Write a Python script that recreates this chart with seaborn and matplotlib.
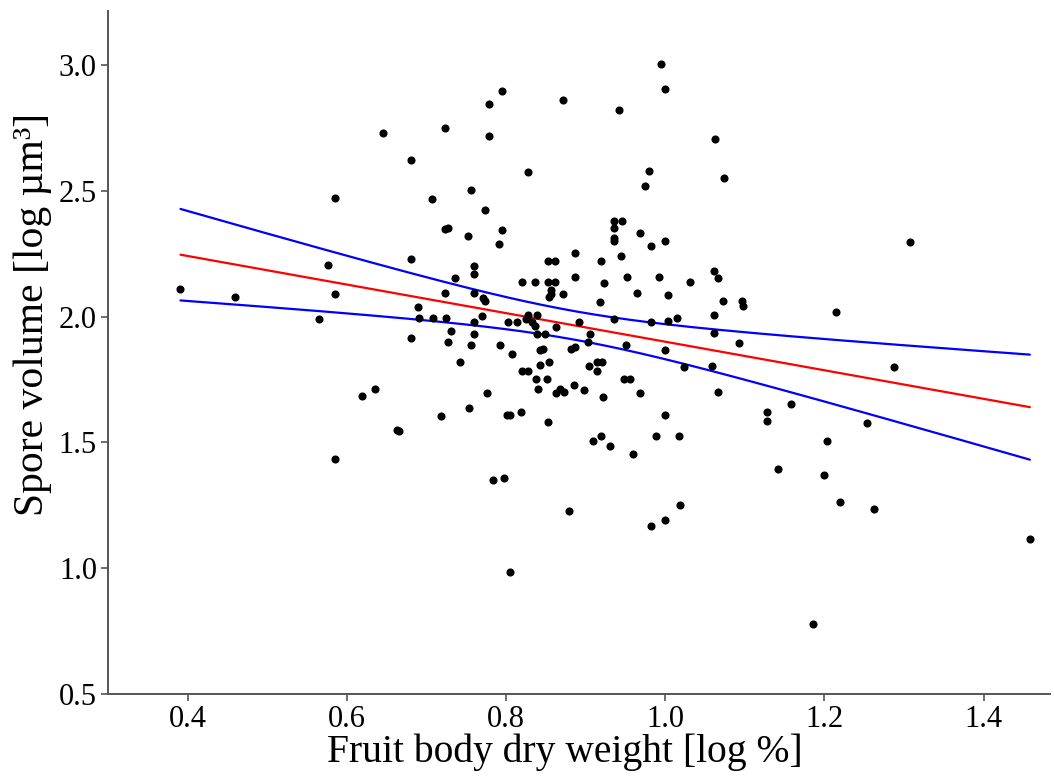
import numpy as np
import pandas as pd
import matplotlib
matplotlib.use("Agg")
import matplotlib.pyplot as plt
import seaborn as sns

# Fruit body dry weight [log %]
dry_weight = [
    0.645, 0.723, 0.681, 0.585, 0.707, 0.723, 0.727, 0.681, 0.576, 0.391,
    0.460, 0.585, 0.723, 0.689, 0.691, 0.708, 0.725, 0.565, 0.731, 0.681,
    0.727, 0.994, 1.000, 0.795, 0.778, 0.872, 0.942, 0.779, 1.062, 0.828,
    0.979, 1.074, 0.975, 0.756, 0.774, 0.795, 0.752, 0.791, 0.936, 0.946,
    0.936, 0.936, 0.936, 0.968, 0.982, 1.000, 0.886, 0.944, 0.853, 0.862,
    0.919, 0.760, 0.760, 0.736, 0.886, 0.952, 0.992, 0.820, 0.836, 0.853,
    0.861, 0.923, 1.031, 1.061, 1.066, 0.760, 0.771, 0.773, 0.856, 0.856,
    0.854, 0.871, 0.964, 1.004, 0.918, 1.073, 1.096, 1.098, 0.770, 0.760,
    0.803, 0.814, 0.827, 0.825, 0.839, 0.833, 0.836, 0.863, 0.892, 0.936,
    0.982, 1.004, 1.015, 1.061, 0.760, 0.839, 0.849, 0.906, 1.061, 0.756,
    0.793, 0.903, 0.951, 1.093, 0.843, 0.847, 0.881, 0.886, 1.000, 0.807,
    0.742, 0.820, 0.828, 0.843, 0.854, 0.838, 0.852, 0.840, 0.863, 0.868,
    0.873, 0.885, 0.898, 0.904, 0.914, 0.921, 0.914, 0.922, 0.948, 0.956,
    0.968, 1.023, 1.059, 1.066, 0.776, 0.753, 0.718, 0.801, 0.805, 0.819,
    0.853, 1.000, 0.909, 0.919, 0.931, 0.959, 0.988, 1.017, 1.128, 1.128,
    1.158, 1.141, 0.783, 0.798, 0.879, 0.982, 1.000, 1.019, 0.805, 0.619,
    0.635, 0.663, 0.666, 0.585, 1.307, 1.214, 1.287, 1.254, 1.203, 1.200,
    1.220, 1.262, 1.458, 1.186,
]

# Spore volume [log um^3]
spore_volume = [
    2.731, 2.751, 2.622, 2.471, 2.469, 2.347, 2.351, 2.230, 2.205, 2.109,
    2.078, 2.090, 2.095, 2.037, 1.993, 1.993, 1.993, 1.989, 1.943, 1.915,
    1.897, 3.004, 2.903, 2.897, 2.844, 2.861, 2.822, 2.717, 2.707, 2.576,
    2.580, 2.550, 2.520, 2.502, 2.425, 2.345, 2.322, 2.287, 2.378, 2.378,
    2.351, 2.314, 2.300, 2.333, 2.281, 2.301, 2.254, 2.239, 2.221, 2.221,
    2.221, 2.201, 2.169, 2.155, 2.156, 2.156, 2.156, 2.136, 2.139, 2.137,
    2.139, 2.135, 2.139, 2.181, 2.155, 2.095, 2.075, 2.062, 2.106, 2.090,
    2.076, 2.090, 2.095, 2.085, 2.059, 2.063, 2.063, 2.041, 2.004, 1.977,
    1.977, 1.977, 2.006, 1.991, 2.006, 1.977, 1.964, 1.957, 1.977, 1.989,
    1.979, 1.983, 1.993, 2.005, 1.930, 1.930, 1.930, 1.930, 1.934, 1.887,
    1.887, 1.899, 1.886, 1.895, 1.868, 1.870, 1.871, 1.879, 1.868, 1.851,
    1.821, 1.784, 1.784, 1.806, 1.821, 1.753, 1.753, 1.712, 1.698, 1.711,
    1.702, 1.728, 1.709, 1.804, 1.821, 1.821, 1.784, 1.682, 1.753, 1.753,
    1.698, 1.798, 1.805, 1.702, 1.698, 1.637, 1.604, 1.608, 1.608, 1.621,
    1.582, 1.608, 1.507, 1.527, 1.484, 1.453, 1.527, 1.525, 1.622, 1.585,
    1.653, 1.396, 1.351, 1.357, 1.226, 1.169, 1.192, 1.251, 0.986, 1.683,
    1.712, 1.549, 1.544, 1.433, 2.296, 2.018, 1.798, 1.577, 1.507, 1.370,
    1.264, 1.235, 1.116, 0.778,
]

x_ticks = [0.4, 0.6, 0.8, 1.0, 1.2, 1.4]
y_ticks = [0.5, 1.0, 1.5, 2.0, 2.5, 3.0]
x_label = "Fruit body dry weight [log %]"
y_label = "Spore volume [log µm³]"

sns.set_theme(style="ticks")
plt.rcParams['font.family'] = ['Liberation Serif', 'DejaVu Serif']

df = pd.DataFrame({"dry_weight": dry_weight, "spore_volume": spore_volume})

fig = plt.figure(figsize=(10.54, 7.78), dpi=100)
ax = fig.add_axes([0.1025, 0.108, 0.8935, 0.878])

# regression line and points
sns.regplot(data=df, x="dry_weight", y="spore_volume", ax=ax, ci=None,
            truncate=True,
            scatter_kws=dict(s=34, color="black", linewidths=0, alpha=1, zorder=3),
            line_kws=dict(color="red", lw=1.6, zorder=2))

# 95% confidence band of the fitted mean (drawn as lines)
xv = df["dry_weight"].to_numpy()
yv = df["spore_volume"].to_numpy()
n = len(xv)
slope, intercept = np.polyfit(xv, yv, 1)
resid = yv - (intercept + slope * xv)
s = np.sqrt(np.sum(resid ** 2) / (n - 2))
xbar = xv.mean()
sxx = np.sum((xv - xbar) ** 2)
t_crit = 1.974
xs = np.linspace(xv.min(), xv.max(), 200)
yfit = intercept + slope * xs
half = t_crit * s * np.sqrt(1.0 / n + (xs - xbar) ** 2 / sxx)
band = pd.DataFrame({"x": np.concatenate([xs, xs]),
                     "y": np.concatenate([yfit + half, yfit - half]),
                     "side": ["upper"] * len(xs) + ["lower"] * len(xs)})
sns.lineplot(data=band, x="x", y="y", units="side", estimator=None,
             color="blue", lw=1.6, ax=ax, zorder=2)

ax.set_xlim(0.30, 1.483)
ax.set_ylim(0.5, 3.215)
ax.set_xticks(x_ticks)
ax.set_xticklabels([f"{v:.1f}" for v in x_ticks])
ax.set_yticks(y_ticks)
ax.set_yticklabels([f"{v:.1f}" for v in y_ticks])
ax.set_xlabel(x_label, fontsize=28.5, color="black", labelpad=2)
ax.set_ylabel(y_label, fontsize=30, color="black", labelpad=6)
ax.xaxis.set_label_coords(0.485, -0.058)
ax.yaxis.set_label_coords(-0.060, 0.555)
ax.tick_params(axis="both", labelsize=22, colors="black", direction="out",
               length=5, width=1.2, color="#555555", pad=3)
sns.despine(ax=ax)
for sp in ["left", "bottom"]:
    ax.spines[sp].set_color("#555555")
    ax.spines[sp].set_linewidth(1.4)

fig.savefig("out.png", dpi=100)
